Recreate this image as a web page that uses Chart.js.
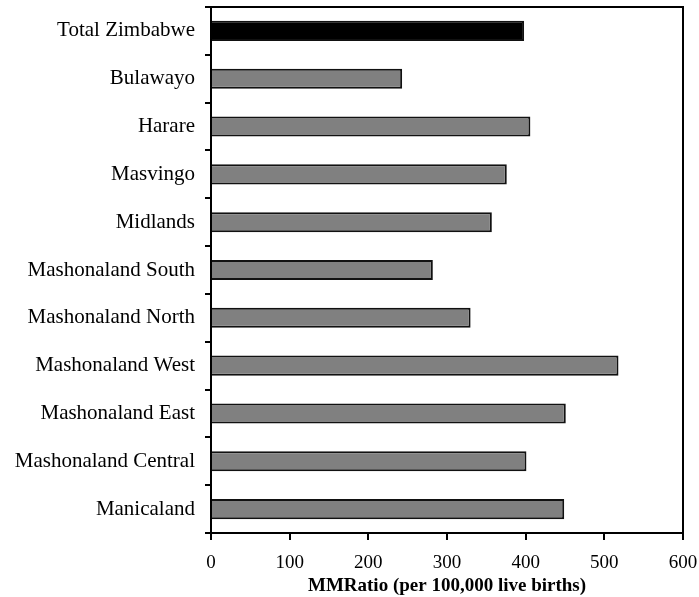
<!DOCTYPE html>
<html>
<head>
<meta charset="utf-8">
<script src="https://cdn.jsdelivr.net/npm/chart.js@4/dist/chart.umd.min.js"></script>
<style>
  html, body { margin: 0; padding: 0; background: #fff; }
  #wrap { width: 699px; height: 597px; }
</style>
</head>
<body>
<div id="wrap"><canvas id="mmrChart"></canvas></div>
<script>
const provinces = [
  "Total Zimbabwe", "Bulawayo", "Harare", "Masvingo", "Midlands",
  "Mashonaland South", "Mashonaland North", "Mashonaland West",
  "Mashonaland East", "Mashonaland Central", "Manicaland"
];
const mmRatio = [398, 243, 406, 376, 357, 282, 330, 518, 451, 401, 449];
const xTicks = [0, 100, 200, 300, 400, 500, 600];

// box round the plot area (top and right edges)
const frame = {
  id: "frame",
  afterDatasetsDraw(chart) {
    const { ctx, chartArea: a } = chart;
    ctx.save();
    ctx.strokeStyle = "#000";
    ctx.lineWidth = 2;
    ctx.strokeRect(a.left, a.top, a.right - a.left, a.bottom - a.top);
    ctx.restore();
  }
};

new Chart(document.getElementById("mmrChart"), {
  type: "bar",
  data: {
    labels: provinces,
    datasets: [{
      data: mmRatio,
      backgroundColor: ctx => ctx.dataIndex === 0 ? "#000" : "#808080",
      borderColor: "#111",
      borderWidth: 2,
      categoryPercentage: 1,
      barPercentage: 0.42
    }]
  },
  options: {
    indexAxis: "y",
    responsive: true,
    maintainAspectRatio: false,
    animation: false,
    layout: { padding: { top: 7, right: 16, bottom: 0, left: 0 } },
    plugins: {
      legend: { display: false },
      tooltip: { enabled: false }
    },
    scales: {
      x: {
        min: xTicks[0],
        max: xTicks[xTicks.length - 1],
        afterBuildTicks: s => { s.ticks = xTicks.map(v => ({ value: v })); },
        afterFit: s => {
          s.height = 64;
          s.paddingLeft = 0;
          s.paddingRight = 0;
        },
        border: { color: "#000", width: 2 },
        grid: { drawOnChartArea: false, tickLength: 7, color: "#000", lineWidth: 2 },
        ticks: {
          color: "#000",
          padding: 12,
          font: { family: "Liberation Serif", size: 19 }
        },
        title: {
          display: true,
          text: "MMRatio (per 100,000 live births)",
          color: "#000",
          padding: { top: 2, bottom: 0 },
          font: { family: "Liberation Serif", size: 19, weight: "bold" }
        }
      },
      y: {
        afterFit: s => {
          s.width = 211;
          s.paddingTop = 0;
          s.paddingBottom = 0;
        },
        border: { color: "#000", width: 2 },
        grid: { offset: true, drawOnChartArea: false, tickLength: 6, color: "#000", lineWidth: 2 },
        ticks: {
          color: "#000",
          padding: 10,
          font: { family: "Liberation Serif", size: 21 }
        }
      }
    }
  },
  plugins: [frame]
});
</script>
</body>
</html>
